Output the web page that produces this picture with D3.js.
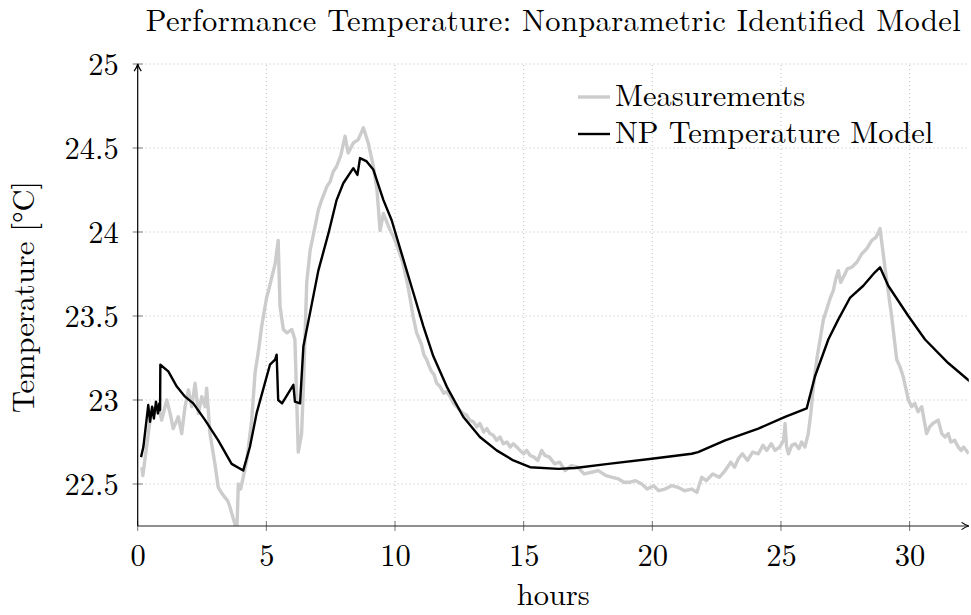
<!DOCTYPE html>
<html>
<head>
<meta charset="utf-8">
<script src="https://cdn.jsdelivr.net/npm/d3@7"></script>
<style>
  body { margin: 0; background: #fff; }
  svg { font-family: "Latin Modern Roman", "CMU Serif", "Liberation Serif", serif; }
</style>
</head>
<body>
<div id="chart"></div>
<script>
const WIDTH = 971;
const HEIGHT = 615;
const FONT_SIZE = 30.5;

const TITLE = 'Performance Temperature: Nonparametric Identified Model';
const X_LABEL = 'hours';
const Y_LABEL = 'Temperature [°C]';
const SERIES_NAMES = ['Measurements', 'NP Temperature Model'];

const X_TICKS = [0, 5, 10, 15, 20, 25, 30];
const Y_TICKS = [22.5, 23, 23.5, 24, 24.5, 25];
const X_DOMAIN = [0, 32.3];
const Y_DOMAIN = [22.25, 25];

// measured temperature, [hours, degC]
const measurements = [
  [0.16, 22.60], [0.20, 22.55], [0.31, 22.68], [0.48, 22.88], [0.58, 22.95], [0.67, 22.92],
  [0.80, 22.97], [0.93, 22.88], [1.13, 23.00], [1.26, 22.92], [1.38, 22.83], [1.58, 22.90],
  [1.71, 22.80], [1.84, 22.96], [1.97, 23.06], [2.10, 22.96], [2.23, 23.10], [2.36, 22.92],
  [2.49, 23.02], [2.62, 22.96], [2.68, 23.07], [2.81, 22.80], [3.00, 22.62], [3.13, 22.48],
  [3.25, 22.45], [3.39, 22.42], [3.50, 22.40], [3.59, 22.36], [3.78, 22.26], [3.85, 22.20],
  [3.91, 22.50], [4.00, 22.47], [4.10, 22.54], [4.24, 22.64], [4.43, 22.88], [4.56, 23.16],
  [4.70, 23.30], [4.82, 23.44], [5.01, 23.61], [5.10, 23.66], [5.21, 23.73], [5.34, 23.81],
  [5.46, 23.95], [5.53, 23.56], [5.66, 23.42], [5.80, 23.40], [5.99, 23.42], [6.11, 23.36],
  [6.24, 22.69], [6.37, 22.80], [6.44, 23.08], [6.57, 23.70], [6.70, 23.89], [6.89, 24.03],
  [7.02, 24.13], [7.15, 24.19], [7.35, 24.27], [7.48, 24.30], [7.60, 24.36], [7.73, 24.39],
  [7.90, 24.46], [8.06, 24.57], [8.18, 24.47], [8.38, 24.53], [8.57, 24.55], [8.77, 24.62],
  [8.96, 24.53], [9.16, 24.39], [9.30, 24.25], [9.42, 24.01], [9.55, 24.11], [9.81, 24.01],
  [9.95, 23.97], [10.05, 23.93], [10.19, 23.87], [10.30, 23.82], [10.40, 23.75], [10.50, 23.68],
  [10.58, 23.61], [10.70, 23.50], [10.84, 23.40], [10.95, 23.36], [11.03, 23.33], [11.12, 23.27],
  [11.23, 23.24], [11.33, 23.20], [11.42, 23.17], [11.52, 23.15], [11.62, 23.10], [11.75, 23.08],
  [11.90, 23.04], [12.02, 23.05], [12.14, 23.02], [12.27, 22.98], [12.40, 22.96], [12.52, 22.94],
  [12.65, 22.92], [12.78, 22.91], [12.90, 22.88], [13.05, 22.87], [13.18, 22.84], [13.30, 22.86],
  [13.45, 22.81], [13.57, 22.83], [13.69, 22.80], [13.82, 22.79], [13.95, 22.76], [14.08, 22.78],
  [14.21, 22.74], [14.35, 22.75], [14.48, 22.72], [14.60, 22.74], [14.73, 22.72], [14.86, 22.70],
  [15.00, 22.68], [15.12, 22.70], [15.25, 22.67], [15.40, 22.66], [15.55, 22.64], [15.70, 22.70],
  [15.83, 22.67], [16.00, 22.66], [16.20, 22.62], [16.40, 22.63], [16.61, 22.58], [16.85, 22.61],
  [17.10, 22.60], [17.35, 22.56], [17.64, 22.57], [17.90, 22.58], [18.20, 22.55], [18.45, 22.54],
  [18.68, 22.53], [18.90, 22.51], [19.10, 22.51], [19.35, 22.52], [19.59, 22.50], [19.80, 22.47],
  [20.05, 22.49], [20.25, 22.46], [20.49, 22.47], [20.75, 22.49], [21.00, 22.48], [21.25, 22.46],
  [21.53, 22.47], [21.73, 22.45], [21.92, 22.54], [22.10, 22.52], [22.35, 22.56], [22.60, 22.54],
  [22.83, 22.58], [23.05, 22.63], [23.20, 22.60], [23.34, 22.65], [23.50, 22.68], [23.70, 22.64],
  [23.90, 22.69], [24.12, 22.68], [24.30, 22.73], [24.45, 22.70], [24.62, 22.74], [24.77, 22.70],
  [24.95, 22.72], [25.10, 22.76], [25.16, 22.86], [25.22, 22.72], [25.29, 22.68], [25.42, 22.73],
  [25.55, 22.74], [25.70, 22.71], [25.80, 22.75], [25.93, 22.72], [26.06, 22.80], [26.16, 22.92],
  [26.26, 23.08], [26.40, 23.25], [26.52, 23.36], [26.65, 23.48], [26.78, 23.54], [26.90, 23.60],
  [27.03, 23.65], [27.13, 23.72], [27.23, 23.77], [27.32, 23.70], [27.42, 23.73], [27.58, 23.78],
  [27.75, 23.79], [27.95, 23.82], [28.14, 23.87], [28.33, 23.90], [28.53, 23.95], [28.70, 23.97],
  [28.85, 24.02], [29.04, 23.79], [29.30, 23.50], [29.50, 23.24], [29.62, 23.20], [29.75, 23.14],
  [29.95, 23.00], [30.08, 22.96], [30.20, 22.98], [30.33, 22.93], [30.47, 22.96], [30.66, 22.80],
  [30.78, 22.84], [30.90, 22.86], [31.11, 22.88], [31.25, 22.80], [31.38, 22.78], [31.50, 22.80],
  [31.60, 22.75], [31.75, 22.76], [31.89, 22.72], [32.00, 22.70], [32.10, 22.72], [32.30, 22.68]
];

// nonparametric model output, [hours, degC]
const npModel = [
  [0.13, 22.66], [0.22, 22.72], [0.41, 22.97], [0.48, 22.87], [0.56, 22.96], [0.63, 22.89],
  [0.71, 22.99], [0.79, 22.92], [0.84, 22.98], [0.87, 22.94], [0.88, 23.21], [1.19, 23.17],
  [1.52, 23.08], [1.84, 23.02], [2.16, 22.98], [2.62, 22.88], [3.13, 22.76], [3.65, 22.62],
  [4.10, 22.58], [4.36, 22.72], [4.62, 22.92], [5.14, 23.21], [5.34, 23.24], [5.40, 23.27],
  [5.46, 23.00], [5.61, 22.98], [6.05, 23.09], [6.11, 22.99], [6.31, 22.98], [6.44, 23.32],
  [6.70, 23.52], [7.02, 23.77], [7.41, 23.99], [7.73, 24.19], [7.99, 24.29], [8.38, 24.38],
  [8.54, 24.34], [8.64, 24.44], [8.90, 24.42], [9.16, 24.37], [9.55, 24.19], [9.87, 24.07],
  [10.26, 23.87], [10.71, 23.64], [11.10, 23.44], [11.49, 23.26], [12.01, 23.08], [12.65, 22.90],
  [13.30, 22.78], [13.95, 22.70], [14.60, 22.64], [15.25, 22.60], [16.35, 22.59], [17.00, 22.595],
  [18.29, 22.62], [19.98, 22.65], [21.53, 22.68], [21.78, 22.69], [22.83, 22.76], [24.12, 22.83],
  [25.16, 22.90], [26.00, 22.95], [26.32, 23.14], [26.84, 23.36], [27.23, 23.48], [27.69, 23.61],
  [28.20, 23.68], [28.65, 23.76], [28.85, 23.79], [29.17, 23.68], [29.95, 23.50], [30.60, 23.36],
  [31.50, 23.22], [32.35, 23.11]
];

const svg = d3.select('#chart').append('svg')
  .attr('width', WIDTH)
  .attr('height', HEIGHT);

const x = d3.scaleLinear().domain(X_DOMAIN).range([137.7, 968.8]);
const y = d3.scaleLinear().domain(Y_DOMAIN).range([526, 64]);

const [plotLeft, plotRight] = x.range();
const [plotBottom, plotTop] = y.range();

// grid
const grid = svg.append('g')
  .attr('stroke', '#bdbdbd')
  .attr('stroke-width', 1)
  .attr('stroke-dasharray', '1,3');

grid.selectAll('.gx')
  .data(X_TICKS.filter(d => d > 0))
  .join('line')
  .attr('x1', d => x(d)).attr('x2', d => x(d))
  .attr('y1', plotBottom).attr('y2', plotTop);

grid.selectAll('.gy')
  .data(Y_TICKS)
  .join('line')
  .attr('x1', plotLeft).attr('x2', plotRight)
  .attr('y1', d => y(d)).attr('y2', d => y(d));

// lines
svg.append('clipPath').attr('id', 'plot-clip')
  .append('rect')
  .attr('x', plotLeft).attr('y', plotTop)
  .attr('width', plotRight - plotLeft).attr('height', plotBottom - plotTop);

const line = d3.line()
  .x(d => x(d[0]))
  .y(d => y(d[1]));

const plot = svg.append('g').attr('clip-path', 'url(#plot-clip)');

plot.append('path')
  .datum(measurements)
  .attr('fill', 'none')
  .attr('stroke', '#cccccc')
  .attr('stroke-width', 3.4)
  .attr('stroke-linejoin', 'round')
  .attr('d', line);

plot.append('path')
  .datum(npModel)
  .attr('fill', 'none')
  .attr('stroke', '#000')
  .attr('stroke-width', 2.4)
  .attr('stroke-linejoin', 'round')
  .attr('d', line);

// axes
const xAxis = d3.axisBottom(x).tickValues(X_TICKS).tickSize(0).tickPadding(18);
const yAxis = d3.axisLeft(y).tickValues(Y_TICKS).tickSize(0).tickPadding(19)
  .tickFormat(d3.format('~g'));

const gx = svg.append('g')
  .attr('transform', `translate(0, ${plotBottom})`)
  .call(xAxis);

const gy = svg.append('g')
  .attr('transform', `translate(${plotLeft}, 0)`)
  .call(yAxis);

for (const g of [gx, gy]) {
  g.attr('font-family', null).attr('font-size', null);
  g.select('.domain').remove();
  g.selectAll('text')
    .attr('fill', '#000')
    .style('font-size', FONT_SIZE + 'px');
}
gx.selectAll('text').attr('dy', '0.71em');
gy.selectAll('text').attr('dy', '0.34em');

// tick marks across the axis lines
svg.append('g')
  .attr('stroke', '#777')
  .attr('stroke-width', 1)
  .selectAll('line')
  .data(X_TICKS)
  .join('line')
  .attr('x1', d => x(d)).attr('x2', d => x(d))
  .attr('y1', plotBottom - 5).attr('y2', plotBottom + 5);

svg.append('g')
  .attr('stroke', '#777')
  .attr('stroke-width', 1)
  .selectAll('line')
  .data(Y_TICKS)
  .join('line')
  .attr('x1', plotLeft - 5).attr('x2', plotLeft + 5)
  .attr('y1', d => y(d)).attr('y2', d => y(d));

// axis lines with arrow heads
const defs = svg.append('defs');
defs.append('marker')
  .attr('id', 'arrow')
  .attr('viewBox', '0 0 10 10')
  .attr('refX', 9).attr('refY', 5)
  .attr('markerWidth', 9).attr('markerHeight', 9)
  .attr('markerUnits', 'userSpaceOnUse')
  .attr('orient', 'auto')
  .append('path')
  .attr('d', 'M1,1 Q5,4 9,5 Q5,6 1,9')
  .attr('fill', 'none')
  .attr('stroke', '#000')
  .attr('stroke-width', 1.3);

svg.append('line')
  .attr('x1', plotLeft).attr('x2', plotRight)
  .attr('y1', plotBottom).attr('y2', plotBottom)
  .attr('stroke', '#222').attr('stroke-width', 1.2)
  .attr('marker-end', 'url(#arrow)');

svg.append('line')
  .attr('x1', plotLeft).attr('x2', plotLeft)
  .attr('y1', plotBottom).attr('y2', plotTop)
  .attr('stroke', '#000').attr('stroke-width', 1.2)
  .attr('marker-end', 'url(#arrow)');

// title and axis labels
svg.append('text')
  .attr('x', (plotLeft + plotRight) / 2)
  .attr('y', 31)
  .attr('text-anchor', 'middle')
  .attr('textLength', 815)
  .attr('lengthAdjust', 'spacing')
  .style('font-size', FONT_SIZE + 'px')
  .text(TITLE);

svg.append('text')
  .attr('x', (plotLeft + plotRight) / 2)
  .attr('y', 605)
  .attr('text-anchor', 'middle')
  .style('font-size', FONT_SIZE + 'px')
  .text(X_LABEL);

svg.append('text')
  .attr('transform', `translate(34, ${(plotTop + plotBottom) / 2 + 2}) rotate(-90)`)
  .attr('text-anchor', 'middle')
  .style('font-size', FONT_SIZE + 'px')
  .text(Y_LABEL);

// legend
const legend = svg.append('g');
const legendColors = ['#cccccc', '#000'];
const legendWidths = [3.4, 2.4];
SERIES_NAMES.forEach((name, i) => {
  const baseline = 106 + i * 37;
  legend.append('line')
    .attr('x1', 578).attr('x2', 610)
    .attr('y1', baseline - 9).attr('y2', baseline - 9)
    .attr('stroke', legendColors[i])
    .attr('stroke-width', legendWidths[i]);
  legend.append('text')
    .attr('x', 615)
    .attr('y', baseline)
    .style('font-size', FONT_SIZE + 'px')
    .text(name);
});
</script>
</body>
</html>
